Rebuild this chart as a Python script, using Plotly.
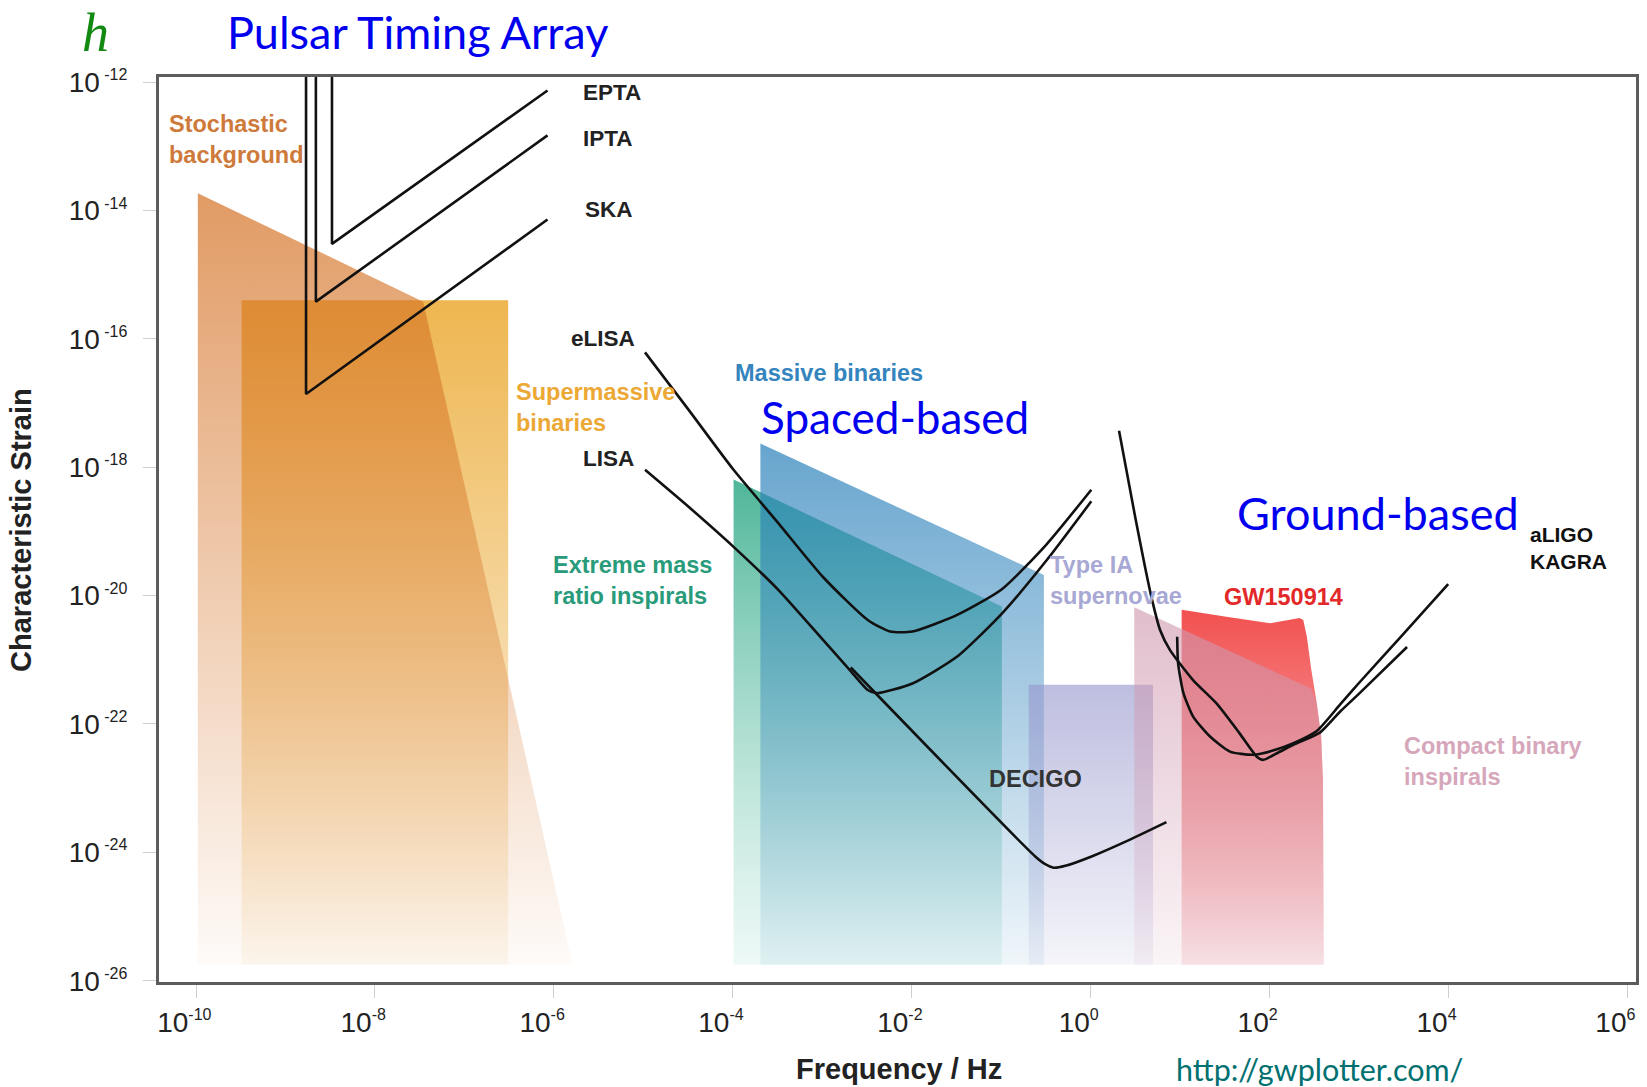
import plotly.graph_objects as go

# ---------------- data (log10 units: x = log10 f/Hz, y = log10 h_c) ----------------
stoch_x = [-9.98, -9.98, -7.46, -5.79]
stoch_y = [-25.75, -13.73, -15.42, -25.75]
smbh_x = [-9.49, -9.49, -6.51, -6.51]
smbh_y = [-25.75, -15.40, -15.40, -25.75]
emri_x = [-3.99, -3.99, -0.99, -0.99]
emri_y = [-25.75, -18.19, -20.17, -25.75]
mbin_x = [-3.69, -3.69, -0.52, -0.52]
mbin_y = [-25.75, -17.63, -19.68, -25.75]
sn_x = [-0.69, -0.69, 0.70, 0.70]
sn_y = [-25.75, -21.39, -21.39, -25.75]
gw_x = [1.02, 1.02, 1.52, 2.01, 2.34, 2.38, 2.42, 2.47, 2.53, 2.58, 2.60, 2.61]
gw_y = [-25.75, -20.22, -20.33, -20.43, -20.35, -20.38, -20.64, -21.16, -21.67, -22.20,
        -22.87, -25.75]
cbc_x = [0.49, 0.49, 2.47, 2.53, 2.58, 2.60, 2.61]
cbc_y = [-25.75, -20.18, -21.45, -21.67, -22.20, -22.87, -25.75]

epta_x = [-8.48, -8.48, -6.07]
epta_y = [-11.5, -14.52, -12.13]
ipta_x = [-8.66, -8.66, -6.07]
ipta_y = [-11.5, -15.42, -12.83]
ska_x = [-8.77, -8.77, -6.07]
ska_y = [-11.5, -16.86, -14.14]

elisa_x = [-4.98, -4.49, -3.99, -3.49, -2.99, -2.49, -2.24, -1.99, -1.49, -0.99, -0.49, 0.01]
elisa_y = [-16.21, -17.11, -18.04, -18.87, -19.71, -20.38, -20.56, -20.56, -20.30, -19.90,
           -19.20, -18.35]
lisa_x = [-4.98, -4.49, -3.99, -3.49, -2.99, -2.69, -2.49, -2.39, -1.99, -1.49, -0.99, -0.49, 0.01]
lisa_y = [-18.04, -18.62, -19.24, -19.91, -20.69, -21.16, -21.47, -21.52, -21.37, -20.95,
          -20.28, -19.45, -18.53]
decigo_x = [-2.68, -0.62, -0.51, -0.41, -0.28, 0.02, 0.43, 0.85]
decigo_y = [-21.12, -24.06, -24.18, -24.24, -24.21, -24.06, -23.81, -23.53]
kagra_x = [0.32, 0.50, 0.61, 0.69, 0.78, 0.89, 1.15, 1.41, 1.67, 1.86, 1.93, 2.08, 2.29, 2.57,
           2.79, 3.01, 3.54]
kagra_y = [-17.43, -18.77, -19.55, -20.07, -20.54, -20.85, -21.32, -21.68, -22.15, -22.51,
           -22.56, -22.46, -22.31, -22.13, -21.81, -21.52, -20.80]
aligo_x = [0.97, 0.98, 1.04, 1.15, 1.34, 1.56, 1.82, 2.05, 2.27, 2.53, 2.79, 3.01, 3.46, 4.00]
aligo_y = [-20.64, -21.05, -21.52, -21.89, -22.20, -22.43, -22.48, -22.41, -22.30, -22.11,
           -21.70, -21.35, -20.66, -19.82]

x_tick_exp = [-10, -8, -6, -4, -2, 0, 2, 4, 6]
y_tick_exp = [-12, -14, -16, -18, -20, -22, -24, -26]


def P(v):
    return [10 ** a for a in v]


fig = go.Figure()


def region(xs, ys, top, bottom):
    fig.add_trace(go.Scatter(
        x=P(xs), y=P(ys), mode="lines", fill="toself", line=dict(width=0),
        fillgradient=dict(type="vertical", colorscale=[[0, bottom], [1, top]]),
        hoverinfo="skip", showlegend=False))


region(smbh_x, smbh_y, "rgba(238,182,80,1)", "rgba(253,249,243,1)")
region(stoch_x, stoch_y, "rgba(212,112,34,0.70)", "rgba(212,112,34,0.03)")
region(emri_x, emri_y, "rgba(70,178,148,0.95)", "rgba(225,245,240,0.6)")
region(mbin_x, mbin_y, "rgba(38,126,185,0.70)", "rgba(38,126,185,0.07)")
region(sn_x, sn_y, "rgba(150,150,205,0.62)", "rgba(150,150,205,0.10)")
region(gw_x, gw_y, "rgba(242,80,80,1)", "rgba(250,232,234,1)")
region(cbc_x, cbc_y, "rgba(208,153,176,0.64)", "rgba(208,153,176,0.10)")


def curve(xs, ys, smooth=False):
    line = dict(color="#111111", width=2.6)
    if smooth:
        line.update(shape="spline", smoothing=0.6)
    fig.add_trace(go.Scatter(
        x=P(xs), y=P(ys), mode="lines", line=line,
        hoverinfo="skip", showlegend=False))


for cx, cy in [(epta_x, epta_y), (ipta_x, ipta_y), (ska_x, ska_y)]:
    curve(cx, cy)
for cx, cy in [(elisa_x, elisa_y), (lisa_x, lisa_y), (decigo_x, decigo_y),
               (kagra_x, kagra_y), (aligo_x, aligo_y)]:
    curve(cx, cy, smooth=True)

LAB = "Liberation Sans"
ann = []


def lab(text, x, y, color, size=23.5):
    ann.append(dict(text=text, x=x, y=y, xref="x", yref="y", showarrow=False,
                    xanchor="left", yanchor="middle", align="left",
                    font=dict(family=LAB, size=size, color=color, weight="bold")))


lab("EPTA", -5.695, -12.156, "#222222", 22.5)
lab("IPTA", -5.695, -12.872, "#222222", 22.5)
lab("SKA", -5.673, -13.978, "#222222", 22.5)
lab("eLISA", -5.830, -15.988, "#222222", 22.5)
lab("LISA", -5.695, -17.857, "#222222", 22.5)
lab("Stochastic<br>background", -10.324, -12.896, "rgb(206,122,58)")
lab("Supermassive<br>binaries", -6.444, -17.062, "rgb(236,168,52)")
lab("Massive binaries", -3.996, -16.533, "rgb(52,132,190)")
lab("Extreme mass<br>ratio inspirals", -6.031, -19.757, "rgb(40,155,122)")
lab("Type IA<br>supernovae", -0.474, -19.757, "rgb(168,168,212)")
lab("GW150914", 1.471, -20.022, "rgb(226,40,40)")
lab("DECIGO", -1.156, -22.857, "#333333")
lab("aLIGO<br>KAGRA", 4.893, -19.259, "#111111", size=21)
lab("Compact binary<br>inspirals", 3.484, -22.592, "rgb(214,166,186)")

BLUE = "#0000ee"
for t, x, y, s in [("Spaced-based", -2.19, -17.22, 44), ("Ground-based", 3.21, -18.71, 45)]:
    ann.append(dict(text=t, x=x, y=y, xref="x", yref="y", showarrow=False,
                    xanchor="center", yanchor="middle",
                    font=dict(family="Lato", size=s, color=BLUE)))

ann.append(dict(text="Pulsar Timing Array", x=0.0450, y=1.0497, xref="paper", yref="paper",
                showarrow=False, xanchor="left", yanchor="middle",
                font=dict(family="Lato", size=45, color=BLUE)))
ann.append(dict(text="<i>h</i>", x=-0.0427, y=1.0486, xref="paper", yref="paper",
                showarrow=False, xanchor="center", yanchor="middle",
                font=dict(family="Liberation Serif", size=54, color="#128a12")))
ann.append(dict(text="Characteristic Strain", x=-0.0935, y=0.4994, xref="paper", yref="paper",
                showarrow=False, xanchor="center", yanchor="middle", textangle=-90,
                font=dict(family=LAB, size=29, color="#222222", weight="bold")))
ann.append(dict(text="Frequency / Hz", x=0.501, y=-0.0961, xref="paper", yref="paper",
                showarrow=False, xanchor="center", yanchor="middle",
                font=dict(family=LAB, size=29, color="#222222", weight="bold")))
ann.append(dict(text="http://gwplotter.com/", x=0.7854, y=-0.0961, xref="paper", yref="paper",
                showarrow=False, xanchor="center", yanchor="middle",
                font=dict(family="Lato", size=30.5, color="rgb(0,112,112)")))

axis_common = dict(type="log", showgrid=False, zeroline=False, showline=True,
                   linecolor="#5c5c5c", linewidth=3, mirror=True, ticks="outside",
                   ticklen=13, tickwidth=1, tickcolor="#cfcfcf", automargin=False,
                   ticklabeloverflow="allow",
                   tickfont=dict(family=LAB, size=28, color="#222222"))

NB = "\u00a0"


def xlab(e):
    return "10<sup><span style='font-size:16px'>%d</span></sup>%s" % (e, NB * 3)


def ylab(e):
    return "10<sup><span style='font-size:16px'> %d</span></sup>" % e


fig.update_layout(
    width=1647, height=1087,
    margin=dict(l=159, r=11, t=77, b=105, autoexpand=False),
    paper_bgcolor="white", plot_bgcolor="white",
    xaxis=dict(range=[-10.414, 6.10],
               tickvals=[10 ** e for e in x_tick_exp],
               ticktext=[xlab(e) for e in x_tick_exp], **axis_common),
    yaxis=dict(range=[-26.02, -11.92], ticklabelstandoff=10,
               tickvals=[10 ** e for e in y_tick_exp],
               ticktext=[ylab(e) for e in y_tick_exp], **axis_common),
    annotations=ann,
)

fig.write_html("out.html")
